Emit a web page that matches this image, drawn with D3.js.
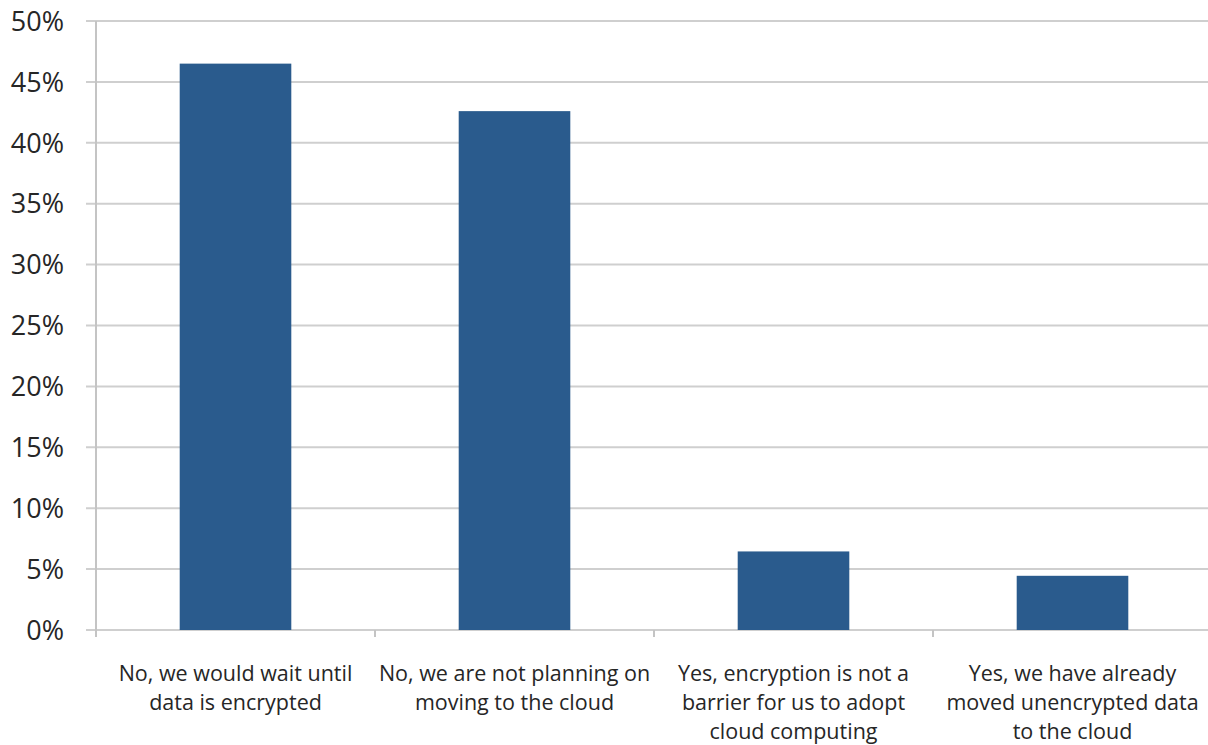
<!DOCTYPE html>
<html>
<head>
<meta charset="utf-8">
<script src="https://cdn.jsdelivr.net/npm/d3@7"></script>
<style>
  html, body { margin: 0; padding: 0; background: #fff; }
  svg { display: block; }
  text { font-family: "Open Sans", "Liberation Sans", sans-serif; fill: #262626; }
</style>
</head>
<body>
<svg id="chart" width="1208" height="745"></svg>
<script>
// Survey responses: share of respondents per answer
const categories = [
  ["No, we would wait until", "data is encrypted"],
  ["No, we are not planning on", "moving to the cloud"],
  ["Yes, encryption is not a", "barrier for us to adopt", "cloud computing"],
  ["Yes, we have already", "moved unencrypted data", "to the cloud"]
];
const values = [46.5, 42.6, 6.45, 4.45];
const yTicks = [0, 5, 10, 15, 20, 25, 30, 35, 40, 45, 50];

const svg = d3.select("#chart");
const plotLeft = 96, plotRight = 1212, plotTop = 21, plotBottom = 630;

const x = d3.scaleBand()
  .domain(d3.range(categories.length))
  .range([plotLeft, plotRight])
  .paddingInner(0)
  .paddingOuter(0);

const y = d3.scaleLinear().domain([0, 50]).range([plotBottom, plotTop]);

// horizontal gridlines with short ticks left of the axis
svg.append("g")
  .selectAll("line")
  .data(yTicks)
  .join("line")
  .attr("x1", plotLeft - 10)
  .attr("x2", plotRight)
  .attr("y1", d => y(d))
  .attr("y2", d => y(d))
  .attr("stroke", "#cfcfcf")
  .attr("stroke-width", 2);

// y tick labels
svg.append("g")
  .selectAll("text")
  .data(yTicks)
  .join("text")
  .attr("x", 64)
  .attr("y", d => y(d))
  .attr("dy", "0.36em")
  .attr("text-anchor", "end")
  .attr("font-size", 27)
  .text(d => d + "%");

// vertical axis line
svg.append("line")
  .attr("x1", plotLeft).attr("x2", plotLeft)
  .attr("y1", plotTop).attr("y2", plotBottom + 7)
  .attr("stroke", "#c4c4c4")
  .attr("stroke-width", 2);

// category separator ticks below the baseline
svg.append("g")
  .selectAll("line")
  .data(d3.range(1, categories.length + 1))
  .join("line")
  .attr("x1", d => plotLeft + d * x.bandwidth())
  .attr("x2", d => plotLeft + d * x.bandwidth())
  .attr("y1", plotBottom)
  .attr("y2", plotBottom + 7)
  .attr("stroke", "#c4c4c4")
  .attr("stroke-width", 2);

// bars
const barW = x.bandwidth() * 0.4;
svg.append("g")
  .selectAll("rect")
  .data(values)
  .join("rect")
  .attr("x", (d, i) => x(i) + (x.bandwidth() - barW) / 2)
  .attr("y", d => y(d))
  .attr("width", barW)
  .attr("height", d => plotBottom - y(d))
  .attr("fill", "#2a5b8d");

// category labels
const lbl = svg.append("g")
  .selectAll("text")
  .data(categories)
  .join("text")
  .attr("text-anchor", "middle")
  .attr("font-size", 21.5);

lbl.selectAll("tspan")
  .data((d, i) => d.map(t => ({ t, i })))
  .join("tspan")
  .attr("x", d => x(d.i) + x.bandwidth() / 2)
  .attr("y", (d, j) => 681 + j * 29)
  .text(d => d.t);
</script>
</body>
</html>
